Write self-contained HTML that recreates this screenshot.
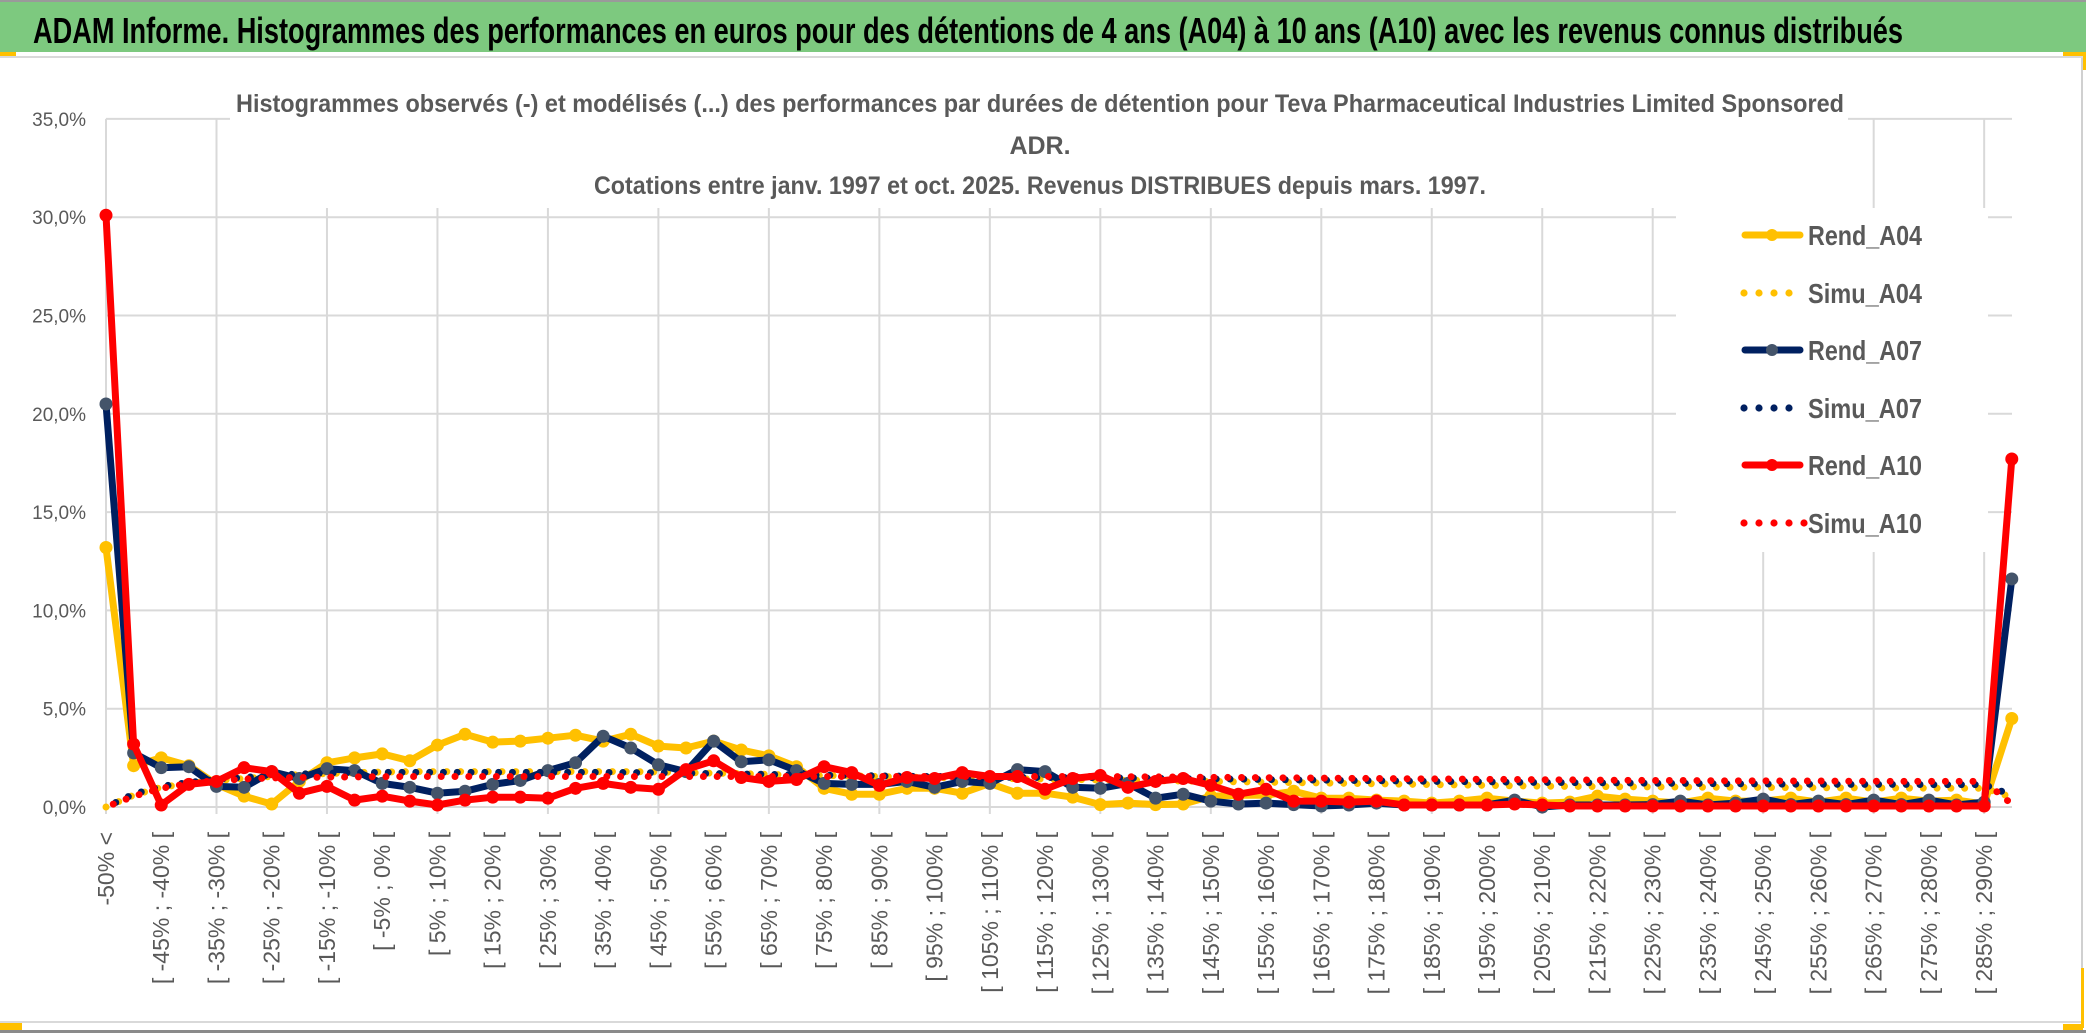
<!DOCTYPE html>
<html><head><meta charset="utf-8">
<style>
html,body{margin:0;padding:0;background:#fff;}
svg{display:block;}
text{font-family:"Liberation Sans",sans-serif;}
</style></head>
<body>
<svg id="chart" width="2086" height="1033" viewBox="0 0 2086 1033" xmlns="http://www.w3.org/2000/svg">
  <rect x="0" y="0" width="2086" height="1033" fill="#fff"/>
  <rect x="0" y="0" width="2086" height="2" fill="#9a9a9a"/>
  <rect x="0" y="2" width="2086" height="50" fill="#7dc97f"/>
  <rect x="0" y="52" width="16" height="4" fill="#ffc000"/>
  <rect x="2063" y="52" width="23" height="4" fill="#ffc000"/>
  <rect x="2082" y="52" width="4" height="18" fill="#ffc000"/>
  <rect x="0" y="56" width="2083" height="2" fill="#d9d9d9"/>
  <text x="33" y="43" font-size="36" font-weight="bold" fill="#000" textLength="1870" lengthAdjust="spacingAndGlyphs">ADAM Informe. Histogrammes des performances en euros pour des détentions de 4 ans (A04) à 10 ans (A10) avec les revenus connus distribués</text>
  <rect x="2081" y="58" width="2" height="966" fill="#d0d0d0"/>
  <rect x="0" y="1021" width="2083" height="2" fill="#d9d9d9"/>
  <rect x="0" y="1030" width="2086" height="3" fill="#8a8a8a"/>
  <rect x="0" y="1023" width="22" height="7" fill="#ffc000"/>
  <rect x="2063" y="1024" width="20" height="6" fill="#ffc000"/>
  <rect x="2081" y="968" width="3" height="60" fill="#ffc000"/>
  <g id="grid"></g>
  <g id="ylabels"></g>
  <g id="xlabels"></g>
  <rect x="230" y="60" width="1618" height="148" fill="#fff"/>
  <g>
    <text x="1040" y="112" font-size="25" font-weight="bold" fill="#595959" text-anchor="middle" textLength="1608" lengthAdjust="spacingAndGlyphs">Histogrammes observés (-) et modélisés (...) des performances par durées de détention pour Teva Pharmaceutical Industries Limited Sponsored</text>
    <text x="1040" y="154" font-size="25" font-weight="bold" fill="#595959" text-anchor="middle">ADR.</text>
    <text x="1040" y="194" font-size="25" font-weight="bold" fill="#595959" text-anchor="middle" textLength="892" lengthAdjust="spacingAndGlyphs">Cotations entre janv. 1997 et oct. 2025. Revenus DISTRIBUES depuis mars. 1997.</text>
  </g>
  <rect x="1676" y="208" width="312" height="344" fill="#fff"/>
  <g id="series"></g>
  <g id="legend"></g>
</svg>
<script>
// ---- data ----
const rendA04 = [13.2,2.1,2.5,2.1,1.15,0.55,0.15,1.3,2.25,2.5,2.7,2.35,3.15,3.7,3.3,3.35,3.5,3.65,3.35,3.7,3.1,3.0,3.35,2.9,2.6,2.05,0.95,0.65,0.65,0.95,0.95,0.7,1.2,0.7,0.7,0.5,0.12,0.2,0.12,0.15,0.55,0.6,0.6,0.8,0.45,0.45,0.35,0.3,0.2,0.3,0.45,0.3,0.2,0.25,0.55,0.4,0.3,0.2,0.45,0.3,0.3,0.45,0.25,0.45,0.25,0.45,0.3,0.35,0.15,4.5];
const rendA07 = [20.5,2.75,2.0,2.05,1.05,1.0,1.8,1.45,1.95,1.85,1.2,1.0,0.7,0.8,1.15,1.35,1.85,2.25,3.6,3.0,2.15,1.8,3.35,2.3,2.4,1.85,1.2,1.15,1.15,1.3,1.0,1.3,1.2,1.9,1.8,1.0,0.95,1.2,0.45,0.65,0.3,0.15,0.2,0.12,0.05,0.1,0.2,0.1,0.1,0.1,0.1,0.35,0.0,0.1,0.1,0.1,0.12,0.3,0.1,0.2,0.4,0.12,0.3,0.12,0.35,0.12,0.35,0.1,0.25,11.6];
const rendA10 = [30.1,3.2,0.1,1.15,1.3,2.0,1.8,0.7,1.05,0.35,0.55,0.3,0.1,0.35,0.5,0.5,0.45,0.95,1.2,1.0,0.9,1.9,2.35,1.5,1.3,1.4,2.05,1.75,1.1,1.5,1.45,1.75,1.55,1.55,0.9,1.45,1.6,1.0,1.3,1.45,1.1,0.65,0.9,0.3,0.3,0.25,0.3,0.1,0.1,0.1,0.1,0.15,0.1,0.05,0.05,0.05,0.05,0.05,0.05,0.05,0.05,0.05,0.05,0.05,0.05,0.05,0.05,0.05,0.05,17.7];
const simuA04 = [0.0,0.6,1.0,1.2,1.35,1.45,1.55,1.65,1.7,1.75,1.78,1.8,1.8,1.8,1.8,1.8,1.8,1.8,1.8,1.8,1.78,1.75,1.72,1.7,1.66,1.62,1.6,1.58,1.55,1.52,1.5,1.48,1.46,1.44,1.42,1.4,1.38,1.36,1.34,1.32,1.3,1.28,1.26,1.24,1.22,1.2,1.18,1.16,1.14,1.12,1.1,1.08,1.06,1.05,1.04,1.03,1.02,1.01,1.0,1.0,0.99,0.98,0.98,0.97,0.97,0.96,0.96,0.95,0.95,0.5];
const simuA07 = [0.0,0.65,1.05,1.25,1.4,1.5,1.6,1.68,1.72,1.75,1.76,1.76,1.76,1.76,1.76,1.76,1.76,1.76,1.76,1.75,1.74,1.72,1.7,1.68,1.66,1.64,1.62,1.6,1.58,1.56,1.55,1.54,1.52,1.51,1.5,1.5,1.49,1.48,1.46,1.45,1.43,1.42,1.4,1.38,1.37,1.35,1.34,1.32,1.3,1.29,1.28,1.26,1.25,1.24,1.23,1.22,1.21,1.2,1.19,1.18,1.17,1.16,1.16,1.15,1.15,1.15,1.14,1.14,1.14,0.6];
const simuA10 = [0.0,0.55,0.95,1.2,1.35,1.42,1.48,1.5,1.52,1.53,1.54,1.55,1.55,1.55,1.55,1.55,1.55,1.55,1.55,1.55,1.55,1.55,1.55,1.55,1.55,1.55,1.55,1.55,1.55,1.55,1.55,1.55,1.55,1.55,1.55,1.55,1.55,1.54,1.53,1.52,1.51,1.5,1.49,1.48,1.47,1.46,1.45,1.44,1.43,1.42,1.41,1.4,1.39,1.38,1.37,1.36,1.35,1.35,1.34,1.33,1.33,1.32,1.32,1.31,1.31,1.3,1.3,1.3,1.3,0.15];
const yTicks = [0,5,10,15,20,25,30,35];
const categories = [];
categories.push('-50% <');
for (let k = 1; k < 70; k++) { const a = -55 + 5*k; categories.push('[ ' + a + '% ; ' + (a+5) + '% ['); }

// ---- axes ----
const X0 = 106, DX = 27.62, Y0 = 807, PER = 19.66;
const xs = i => X0 + DX * i;
const ys = v => Y0 - PER * v;
const NS = 'http://www.w3.org/2000/svg';
function mk(tag, attrs, parent) { const e = document.createElementNS(NS, tag); for (const k in attrs) e.setAttribute(k, attrs[k]); parent.appendChild(e); return e; }

const grid = document.getElementById('grid');
yTicks.forEach(t => {
  const l = mk('line', {x1: X0, x2: 2012, y1: ys(t), y2: ys(t), stroke: '#d9d9d9', 'stroke-width': 2}, grid);
  
  
});
for (let k = 0; k < categories.length; k += 4) {
  const l = mk('line', {x1: xs(k), x2: xs(k), y1: ys(35), y2: Y0 + 7, stroke: '#d9d9d9', 'stroke-width': 2}, grid);
  
  
}
const yl = document.getElementById('ylabels');
yTicks.forEach(t => {
  const tx = mk('text', {x: 86, y: ys(t) + 7, 'font-size': 19, fill: '#595959', 'text-anchor': 'end'}, yl);
  tx.textContent = t.toFixed(1).replace('.', ',') + '%';
  
  
});
const xl = document.getElementById('xlabels');
for (let k = 0; k < 69; k += 2) {
  const cx = xs(k) + 8, cy = 832;
  const tx = mk('text', {x: cx, y: cy, 'font-size': 23, fill: '#595959', 'text-anchor': 'end', transform: 'rotate(-90 ' + cx + ' ' + cy + ')'}, xl);
  tx.textContent = categories[k];
  
  
}

// ---- series ----
const seriesLayer = document.getElementById('series');
function pts(arr) { return arr.map((v, i) => xs(i).toFixed(1) + ',' + ys(v).toFixed(1)).join(' '); }
function solid(arr, color, marker, name) {
  const g = mk('g', {}, seriesLayer);
  
  
  const p = mk('polyline', {points: pts(arr), fill: 'none', stroke: color, 'stroke-width': 7, 'stroke-linejoin': 'round', 'stroke-linecap': 'round'}, g);
  
  
  arr.forEach((v, i) => {
    const c = mk('circle', {cx: xs(i), cy: ys(v), r: 6.5, fill: marker}, g);
    
    
  });
}
function dotted(arr, color, name, off) {
  const g = mk('g', {}, seriesLayer);
  
  
  const p = mk('polyline', {points: pts(arr), fill: 'none', stroke: color, 'stroke-width': 7, 'stroke-linecap': 'round', 'stroke-dasharray': '0 13.8', 'stroke-dashoffset': off}, g);
  
  
}
solid(rendA04, '#ffc000', '#ffc000', 'rend-a04');
dotted(simuA04, '#ffc000', 'simu-a04', 0);
solid(rendA07, '#002060', '#44546a', 'rend-a07');
dotted(simuA07, '#002060', 'simu-a07', 3);
solid(rendA10, '#ff0000', '#ff0000', 'rend-a10');
dotted(simuA10, '#ff0000', 'simu-a10', 6);

// ---- legend ----
const legend = document.getElementById('legend');
const legItems = [['Rend_A04','#ffc000','#ffc000',false],['Simu_A04','#ffc000','#ffc000',true],['Rend_A07','#002060','#44546a',false],['Simu_A07','#002060','#002060',true],['Rend_A10','#ff0000','#ff0000',false],['Simu_A10','#ff0000','#ff0000',true]];
const legY = [235,293,350,408,465,523];
legItems.forEach((it, i) => {
  const g = mk('g', {}, legend);
  
  
  const y = legY[i];
  if (!it[3]) {
    mk('line', {x1: 1745, x2: 1800, y1: y, y2: y, stroke: it[1], 'stroke-width': 7, 'stroke-linecap': 'round'}, g);
    mk('circle', {cx: 1772, cy: y, r: 6, fill: it[2]}, g);
  } else {
    const n = it[0] === 'Simu_A10' ? 5 : 4;
    for (let j = 0; j < n; j++) mk('circle', {cx: 1744 + 15*j, cy: y, r: 3.6, fill: it[1]}, g);
  }
  const t = mk('text', {x: 1808, y: y + 10, 'font-size': 28, 'font-weight': 'bold', fill: '#595959', textLength: 114, lengthAdjust: 'spacingAndGlyphs'}, g);
  t.textContent = it[0];
});
</script>
</body></html>
